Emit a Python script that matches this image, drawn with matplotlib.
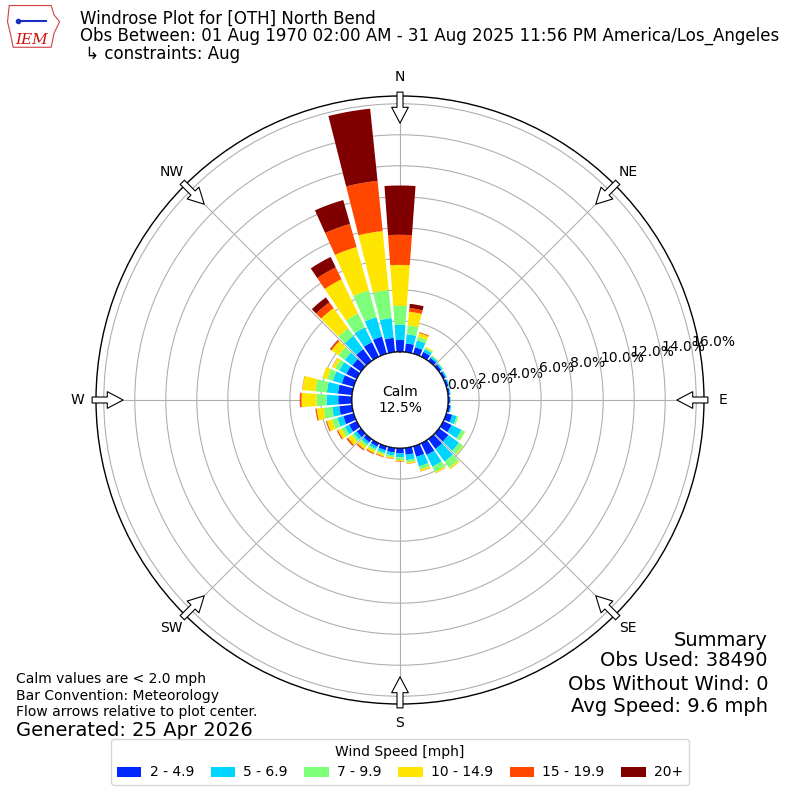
import numpy as np
import matplotlib
matplotlib.use("Agg")
import matplotlib.pyplot as plt
from matplotlib.patches import Circle, Polygon

# direction bins (deg, met convention) and percent frequency per speed bin
directions = np.arange(0, 360, 10)
speed_labels = ["2 - 4.9", "5 - 6.9", "7 - 9.9", "10 - 14.9", "15 - 19.9", "20+"]

s_2_5 = [0.77, 0.57, 0.44, 0.35, 0.25, 0.20, 0.17, 0.15, 0.13, 0.12, 0.16, 0.40,
         0.60, 0.75, 0.80, 0.84, 0.71, 0.45, 0.34, 0.30, 0.27, 0.25, 0.27, 0.35,
         0.55, 0.70, 0.84, 0.88, 0.92, 0.80, 0.75, 0.70, 0.95, 1.05, 1.15, 0.93]
s_5_7 = [0.97, 0.59, 0.46, 0.20, 0.12, 0.10, 0.08, 0.06, 0.05, 0.04, 0.06, 0.30,
         0.70, 0.85, 1.00, 0.84, 0.64, 0.35, 0.26, 0.20, 0.18, 0.18, 0.18, 0.22,
         0.30, 0.40, 0.46, 0.75, 0.72, 0.60, 0.50, 0.60, 1.05, 1.05, 1.30, 1.28]
s_7_10 = [1.23, 0.58, 0.24, 0.10, 0.06, 0.04, 0.03, 0.02, 0.01, 0.01, 0.02, 0.10,
          0.25, 0.32, 0.50, 0.38, 0.23, 0.15, 0.17, 0.12, 0.12, 0.13, 0.15, 0.18,
          0.25, 0.35, 0.55, 0.65, 0.75, 0.40, 0.30, 0.50, 0.60, 1.00, 1.80, 1.82]
s_10_15 = [2.64, 0.88, 0.25, 0.06, 0.02, 0.01, 0.0, 0.0, 0.0, 0.0, 0.0, 0.02,
           0.03, 0.05, 0.10, 0.09, 0.10, 0.08, 0.07, 0.08, 0.12, 0.16, 0.22, 0.30,
           0.25, 0.35, 0.45, 0.97, 0.84, 0.30, 0.20, 0.55, 1.61, 2.45, 2.90, 3.82]
s_15_20 = [1.94, 0.24, 0.06, 0.0, 0.0, 0.0, 0.0, 0.0, 0.0, 0.0, 0.0, 0.0,
           0.0, 0.0, 0.01, 0.01, 0.02, 0.02, 0.03, 0.03, 0.05, 0.06, 0.08, 0.10,
           0.07, 0.06, 0.07, 0.10, 0.02, 0.0, 0.02, 0.10, 0.46, 0.85, 1.55, 3.25]
s_20 = [3.18, 0.27, 0.0, 0.0, 0.0, 0.0, 0.0, 0.0, 0.0, 0.0, 0.0, 0.0,
        0.0, 0.0, 0.0, 0.0, 0.0, 0.0, 0.0, 0.0, 0.0, 0.01, 0.01, 0.01,
        0.01, 0.01, 0.01, 0.01, 0.0, 0.0, 0.0, 0.03, 0.39, 0.75, 1.60, 4.68]
calm_pct = 12.5

compass = ["N", "NE", "E", "SE", "S", "SW", "W", "NW"]
rings = np.arange(0, 17, 2)

colors = plt.cm.jet(np.arange(1, 7) / 6.0)

fig = plt.figure(figsize=(8, 8), dpi=100)
ax = fig.add_axes([0.12, 0.12, 0.76, 0.76], projection="polar")
ax.set_theta_zero_location("N")
ax.set_theta_direction(-1)
ax.set_ylim(0, 16.5)
ax.set_rorigin(-3.1)

theta = np.deg2rad(directions)
width = np.deg2rad(8.3)
bottom = np.zeros(len(directions))
handles = []
for vals, col, lab in zip([s_2_5, s_5_7, s_7_10, s_10_15, s_15_20, s_20],
                          colors, speed_labels):
    vals = np.array(vals)
    b = ax.bar(theta, vals, width=width, bottom=bottom, color=col,
               edgecolor="none", label=lab, zorder=3)
    handles.append(b)
    bottom += vals

ax.set_yticks(rings)
ax.set_yticklabels([f"{r:.1f}%" for r in rings], fontsize=10)
ax.set_rlabel_position(80)
ax.set_thetagrids(np.arange(0, 360, 45), compass, fontsize=10)
ax.tick_params(axis="x", pad=3)
ax.grid(True, color="#b0b0b0", lw=0.8)
ax.spines["polar"].set_linewidth(1.0)

# calm circle in the middle
ax.add_patch(Circle((0.5, 0.5), 0.5 * 3.1 / 19.6, transform=ax.transAxes,
                    facecolor="white", edgecolor="black", lw=1, zorder=10))
ax.text(0.5, 0.5, f"Calm\n{calm_pct:.1f}%", transform=ax.transAxes,
        ha="center", va="center", fontsize=10, zorder=11)

# flow arrows pointing at the plot center
for ang in np.arange(0, 360, 45):
    ax.annotate("", xy=(np.deg2rad(ang), 14.75), xytext=(np.deg2rad(ang), 16.75),
                annotation_clip=False, zorder=12,
                arrowprops=dict(arrowstyle="simple,head_length=0.95,head_width=1.0,tail_width=0.36",
                                mutation_scale=12, fc="white", ec="black", lw=0.8,
                                shrinkA=0, shrinkB=0))

# header
fig.text(0.1, 0.976, "Windrose Plot for [OTH] North Bend", fontsize=12, va="center")
fig.text(0.1, 0.955, "Obs Between: 01 Aug 1970 02:00 AM - 31 Aug 2025 11:56 PM America/Los_Angeles",
         fontsize=12, va="center")
fig.text(0.1, 0.932, " \u21b3 constraints: Aug", fontsize=12, va="center")

# little IEM logo
lax = fig.add_axes([0.008, 0.938, 0.07, 0.058])
lax.axis("off")
lax.set_xlim(0, 1)
lax.set_ylim(0, 1)
lax.add_patch(Polygon([[0.05, 0.95], [0.8, 0.95], [0.85, 0.75], [0.95, 0.6], [0.85, 0.35],
                       [0.8, 0.05], [0.12, 0.05], [0.08, 0.3], [0.02, 0.6]],
                      closed=True, fill=False, ec="#d04040", lw=0.8))
lax.plot([0.2, 0.7], [0.62, 0.62], color="#1a2fbf", lw=1.5)
lax.plot([0.2], [0.62], "o", color="#1a2fbf", ms=3)
lax.text(0.45, 0.2, "IEM", color="#d01010", fontsize=11, style="italic",
         family="DejaVu Serif", ha="center", va="center")

# footers
fig.text(0.02, 0.151, "Calm values are < 2.0 mph", fontsize=10, va="center")
fig.text(0.02, 0.130, "Bar Convention: Meteorology", fontsize=10, va="center")
fig.text(0.02, 0.110, "Flow arrows relative to plot center.", fontsize=10, va="center")
fig.text(0.02, 0.087, "Generated: 25 Apr 2026", fontsize=14, va="center")

fig.text(0.96, 0.200, "Summary", fontsize=14, ha="right", va="center")
fig.text(0.96, 0.174, "Obs Used: 38490", fontsize=14, ha="right", va="center")
fig.text(0.96, 0.145, "Obs Without Wind: 0", fontsize=14, ha="right", va="center")
fig.text(0.96, 0.117, "Avg Speed: 9.6 mph", fontsize=14, ha="right", va="center")

fig.legend(handles=handles, loc="lower center", bbox_to_anchor=(0.5, 0.01),
           ncol=6, title="Wind Speed [mph]", fontsize=10, title_fontsize=10,
           handlelength=1.75, handletextpad=0.6, columnspacing=1.2)

fig.savefig("out.png", dpi=100)
